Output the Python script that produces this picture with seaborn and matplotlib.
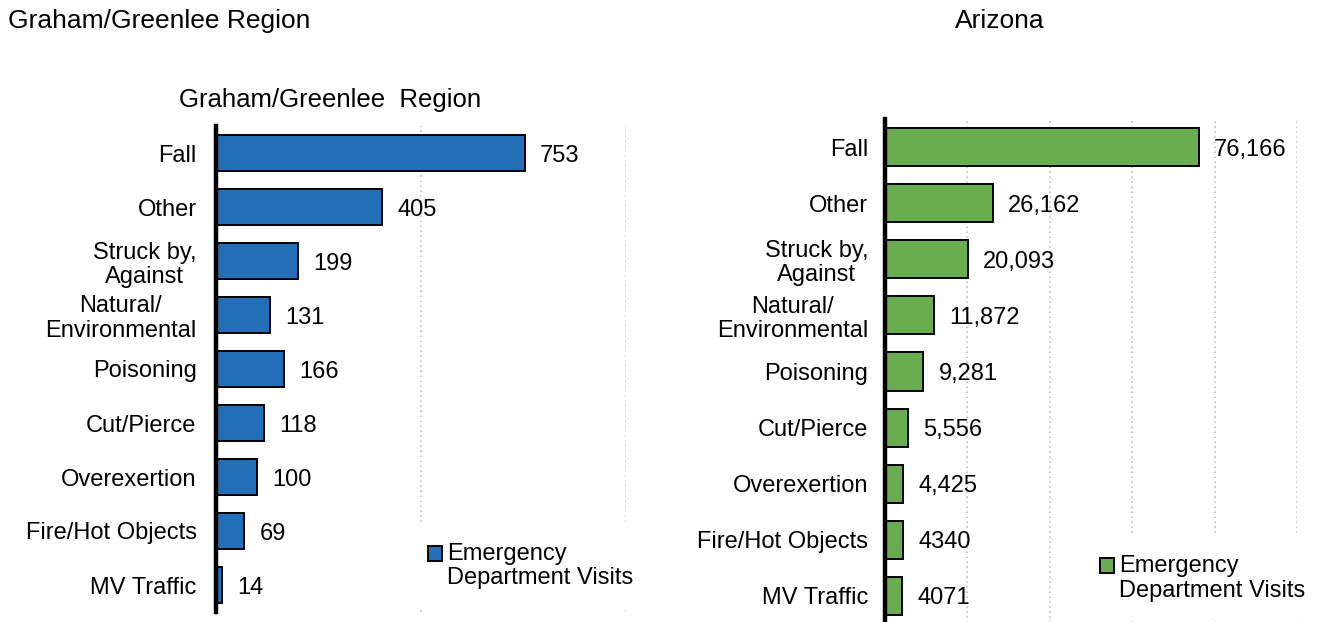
import matplotlib
matplotlib.use("Agg")
import matplotlib.pyplot as plt
import seaborn as sns
import pandas as pd

# Injury causes and emergency department visit counts
causes = ["Fall", "Other", "Struck by,\nAgainst", "Natural/\nEnvironmental",
          "Poisoning", "Cut/Pierce", "Overexertion", "Fire/Hot Objects", "MV Traffic"]
region_visits = [753, 405, 199, 131, 166, 118, 100, 69, 14]
arizona_visits = [76166, 26162, 20093, 11872, 9281, 5556, 4425, 4340, 4071]
region_value_labels = ["753", "405", "199", "131", "166", "118", "100", "69", "14"]
arizona_value_labels = ["76,166", "26,162", "20,093", "11,872", "9,281",
                        "5,556", "4,425", "4340", "4071"]
series_name = "Emergency\nDepartment Visits"

sns.set_theme(style="white")
plt.rcParams["font.family"] = ["Liberation Sans", "DejaVu Sans"]
plt.rcParams["text.color"] = "black"

W, H = 1320, 622
fig = plt.figure(figsize=(W / 100, H / 100), dpi=100)
fig.patch.set_facecolor("white")

ax_l = fig.add_axes([216 / W, (H - 612) / H, 410 / W, 486 / H])
ax_r = fig.add_axes([885 / W, (H - 624) / H, 412 / W, 505 / H])

df_l = pd.DataFrame({"cause": causes, "visits": region_visits})
df_r = pd.DataFrame({"cause": causes, "visits": arizona_visits})

FS = 17


def draw_panel(ax, df, color, xmax, step, labels, pad, legend_anchor):
    sns.barplot(data=df, x="visits", y="cause", orient="h", color=color,
                edgecolor="black", linewidth=1.4, width=0.68, saturation=1,
                label=series_name, ax=ax, zorder=2)
    ax.set_xlim(0, xmax)
    ax.set_xticks(range(0, xmax + 1, step))
    ax.set_xticklabels([])
    ax.tick_params(axis="x", length=0)
    ax.tick_params(axis="y", length=0, pad=pad, labelsize=FS, colors="black")
    for t in ax.get_yticklabels():
        t.set_multialignment("center")
        t.set_linespacing(1.15)
    ax.set_xlabel("")
    ax.set_ylabel("")
    ax.grid(axis="x", color="#c4c4c4", linestyle=(0, (1, 2)), linewidth=1.2, zorder=0)
    ax.grid(axis="y", visible=False)
    for s in ("top", "right", "bottom"):
        ax.spines[s].set_visible(False)
    ax.spines["left"].set_linewidth(3.2)
    ax.spines["left"].set_color("black")
    ax.spines["left"].set_zorder(5)
    for t in ax.bar_label(ax.containers[0], labels=labels, padding=11,
                          fontsize=FS, color="black"):
        t.set_va("center_baseline")
    leg = ax.legend(loc="upper left", bbox_to_anchor=legend_anchor, fontsize=FS,
                    handlelength=0.6, handleheight=0.6, handletextpad=0.2,
                    borderpad=0.8, borderaxespad=0, frameon=True,
                    facecolor="white", edgecolor="none", framealpha=1, fancybox=False)
    leg.set_zorder(6)
    for t in leg.get_texts():
        t.set_linespacing(1.15)
        t.set_color("black")
    # put the swatch beside the first line of the two-line label
    for h in leg.legend_handles:
        h.set_y(h.get_y() + 0.56 * FS)


draw_panel(ax_l, df_l, "#2470B8", 1000, 500, region_value_labels, 14, (0.471, 0.181))
draw_panel(ax_r, df_r, "#6AAD51", 100000, 20000, arizona_value_labels, 12, (0.476, 0.174))

fig.text(8 / W, 1 - 21 / H, "Graham/Greenlee Region", fontsize=19, va="center",
         ha="left", color="black")
fig.text(1000 / W, 1 - 21 / H, "Arizona", fontsize=19, va="center", ha="center",
         color="black")
fig.text(330 / W, 1 - 100 / H, "Graham/Greenlee  Region", fontsize=18.5, va="center",
         ha="center", color="black")

fig.savefig("out.png", dpi=100, facecolor="white")
